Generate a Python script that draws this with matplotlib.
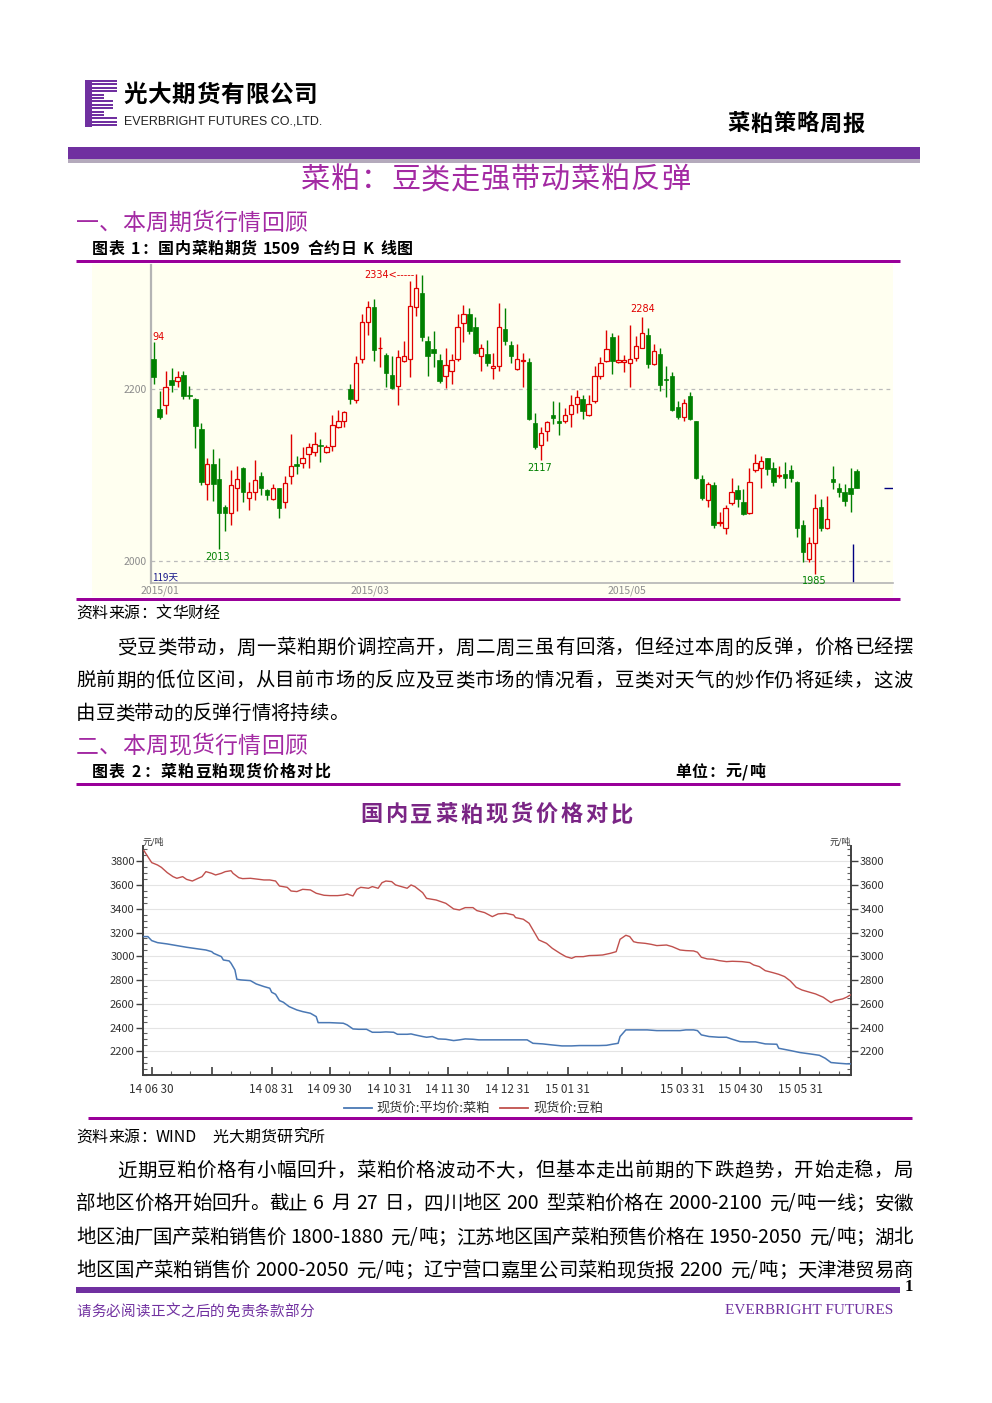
import re
import matplotlib
matplotlib.use('Agg')
import matplotlib.pyplot as plt
import matplotlib.dates as mdates
from matplotlib.patches import Rectangle
from matplotlib.ticker import FixedLocator, FixedFormatter, MultipleLocator, NullFormatter
import numpy as np
import pandas as pd

CJK = ['Noto Sans CJK SC', 'DejaVu Sans']
plt.rcParams['font.family'] = CJK

# ---------------- data: RM1509 daily K line (119 days) ----------------
k_open = [2235, 2177, 2181, 2210, 2209, 2216, 2193, 2188, 2153, 2089,
          2112, 2095, 2063, 2056, 2085, 2108, 2073, 2080, 2098, 2082,
          2072, 2084, 2068, 2098, 2113, 2114, 2124, 2127, 2134, 2127,
          2133, 2155, 2162, 2200, 2187, 2235, 2278, 2295, 2247, 2239,
          2216, 2203, 2232, 2235, 2295, 2311, 2255, 2246, 2233, 2215,
          2221, 2235, 2276, 2287, 2272, 2238, 2241, 2224, 2226, 2269,
          2251, 2223, 2232, 2231, 2160, 2135, 2151, 2169, 2163, 2162,
          2171, 2182, 2188, 2170, 2186, 2215, 2232, 2260, 2231, 2231,
          2230, 2236, 2248, 2262, 2229, 2240, 2211, 2215, 2179, 2167,
          2191, 2162, 2095, 2071, 2088, 2044, 2038, 2067, 2082, 2068,
          2055, 2105, 2108, 2119, 2108, 2098, 2101, 2106, 2092, 2042,
          2002, 2021, 2062, 2038, 2095, 2085, 2080, 2084, 2104]
k_high = [2254, 2197, 2221, 2224, 2221, 2221, 2203, 2189, 2160, 2120,
          2130, 2120, 2065, 2106, 2110, 2109, 2092, 2117, 2103, 2083,
          2089, 2085, 2098, 2147, 2122, 2132, 2137, 2150, 2142, 2135,
          2169, 2175, 2174, 2206, 2238, 2287, 2302, 2305, 2260, 2242,
          2238, 2245, 2255, 2325, 2334, 2332, 2261, 2267, 2241, 2248,
          2240, 2287, 2298, 2294, 2283, 2252, 2257, 2242, 2300, 2294,
          2256, 2252, 2242, 2236, 2172, 2155, 2162, 2186, 2185, 2178,
          2193, 2198, 2193, 2193, 2226, 2237, 2268, 2265, 2263, 2239,
          2274, 2261, 2284, 2271, 2252, 2248, 2226, 2219, 2186, 2188,
          2196, 2163, 2100, 2092, 2092, 2057, 2065, 2096, 2088, 2083,
          2108, 2124, 2122, 2120, 2115, 2110, 2115, 2111, 2093, 2047,
          2028, 2077, 2072, 2075, 2110, 2090, 2089, 2108, 2107]
k_low = [2206, 2165, 2171, 2196, 2202, 2188, 2188, 2131, 2088, 2071,
         2069, 2013, 2034, 2042, 2058, 2068, 2059, 2071, 2076, 2071,
         2071, 2050, 2061, 2089, 2101, 2108, 2108, 2122, 2115, 2125,
         2128, 2154, 2155, 2182, 2183, 2230, 2263, 2232, 2225, 2202,
         2200, 2181, 2231, 2214, 2285, 2256, 2215, 2225, 2207, 2201,
         2206, 2232, 2254, 2264, 2240, 2221, 2226, 2211, 2221, 2251,
         2230, 2222, 2202, 2164, 2130, 2117, 2139, 2159, 2146, 2160,
         2155, 2172, 2165, 2168, 2183, 2211, 2231, 2217, 2230, 2219,
         2202, 2232, 2247, 2224, 2228, 2197, 2190, 2174, 2165, 2162,
         2164, 2095, 2071, 2062, 2038, 2040, 2031, 2065, 2062, 2053,
         2054, 2103, 2084, 2100, 2087, 2096, 2085, 2092, 2027, 1999,
         1998, 1985, 2034, 2037, 2083, 2074, 2064, 2057, 2085]
k_close = [2214, 2167, 2202, 2204, 2214, 2191, 2192, 2157, 2092, 2112,
           2089, 2056, 2056, 2088, 2095, 2080, 2080, 2094, 2085, 2076,
           2085, 2061, 2090, 2110, 2110, 2119, 2132, 2136, 2133, 2132,
           2158, 2162, 2173, 2188, 2230, 2278, 2295, 2245, 2248, 2218,
           2201, 2237, 2238, 2296, 2317, 2260, 2238, 2242, 2209, 2228,
           2233, 2272, 2287, 2267, 2242, 2248, 2230, 2227, 2272, 2256,
           2238, 2235, 2233, 2165, 2132, 2149, 2161, 2166, 2160, 2170,
           2181, 2190, 2174, 2182, 2215, 2230, 2246, 2232, 2233, 2233,
           2235, 2250, 2265, 2229, 2244, 2204, 2210, 2175, 2167, 2183,
           2165, 2096, 2073, 2089, 2042, 2045, 2061, 2080, 2072, 2054,
           2092, 2114, 2116, 2107, 2092, 2100, 2096, 2096, 2038, 2010,
           2021, 2061, 2038, 2048, 2091, 2080, 2069, 2078, 2085]
k_yticks = [2000, 2200]
k_date_labels = ['2015/01', '2015/03', '2015/05']
k_date_pos = [1.06, 36.3, 79.4]

# ---------------- data: spot prices (yuan/ton) ----------------
sm_dates = ['2014-06-26', '2014-06-28', '2014-06-30', '2014-07-03', '2014-07-05', '2014-07-08', '2014-07-11',
            '2014-07-13', '2014-07-16', '2014-07-18', '2014-07-21', '2014-07-24', '2014-07-26', '2014-07-28',
            '2014-07-31', '2014-08-02', '2014-08-05', '2014-08-07', '2014-08-10', '2014-08-11', '2014-08-14',
            '2014-08-16', '2014-08-20', '2014-08-23', '2014-08-27', '2014-08-30', '2014-09-02', '2014-09-04',
            '2014-09-08', '2014-09-10', '2014-09-13', '2014-09-16', '2014-09-20', '2014-09-23', '2014-09-27',
            '2014-09-30', '2014-10-04', '2014-10-07', '2014-10-09', '2014-10-12', '2014-10-14', '2014-10-16',
            '2014-10-20', '2014-10-22', '2014-10-25', '2014-10-27', '2014-10-29', '2014-11-01', '2014-11-03',
            '2014-11-06', '2014-11-09', '2014-11-11', '2014-11-13', '2014-11-17', '2014-11-19', '2014-11-24',
            '2014-11-29', '2014-12-03', '2014-12-06', '2014-12-09', '2014-12-13', '2014-12-15', '2014-12-19',
            '2014-12-23', '2014-12-26', '2014-12-30', '2015-01-03', '2015-01-04', '2015-01-08', '2015-01-11',
            '2015-01-14', '2015-01-16', '2015-01-20', '2015-01-23', '2015-01-27', '2015-01-30', '2015-02-02',
            '2015-02-04', '2015-02-08', '2015-02-11', '2015-02-15', '2015-02-18', '2015-02-22', '2015-02-25',
            '2015-02-27', '2015-03-02', '2015-03-04', '2015-03-06', '2015-03-08', '2015-03-12', '2015-03-15',
            '2015-03-18', '2015-03-23', '2015-03-26', '2015-03-30', '2015-04-02', '2015-04-06', '2015-04-08',
            '2015-04-10', '2015-04-13', '2015-04-16', '2015-04-19', '2015-04-23', '2015-04-26', '2015-05-01',
            '2015-05-05', '2015-05-07', '2015-05-10', '2015-05-13', '2015-05-17', '2015-05-20', '2015-05-23',
            '2015-05-26', '2015-05-29', '2015-06-01', '2015-06-05', '2015-06-08', '2015-06-12', '2015-06-14',
            '2015-06-16', '2015-06-18', '2015-06-22', '2015-06-24', '2015-06-26']
sm_price = [3890, 3839, 3789, 3769, 3749, 3705, 3671, 3657, 3671, 3648, 3634, 3657, 3671, 3713,
            3699, 3685, 3699, 3713, 3721, 3699, 3662, 3654, 3657, 3651, 3643, 3643, 3634, 3592,
            3581, 3550, 3545, 3564, 3559, 3531, 3514, 3511, 3511, 3516, 3525, 3508, 3564, 3581,
            3573, 3587, 3573, 3620, 3634, 3629, 3601, 3587, 3573, 3601, 3587, 3536, 3488, 3474,
            3446, 3399, 3390, 3410, 3410, 3385, 3368, 3334, 3357, 3362, 3348, 3326, 3312, 3278,
            3194, 3138, 3109, 3067, 3025, 2997, 2983, 2997, 2997, 3006, 3008, 3011, 3025, 3039,
            3143, 3177, 3166, 3123, 3115, 3109, 3101, 3090, 3095, 3081, 3053, 3048, 3045, 3034,
            2992, 2978, 2975, 2964, 2955, 2958, 2955, 2947, 2927, 2913, 2879, 2862, 2848, 2829,
            2792, 2739, 2716, 2697, 2683, 2655, 2632, 2610, 2627, 2641, 2655, 2674]
rm_dates = ['2014-06-26', '2014-06-28', '2014-06-30', '2014-07-03', '2014-07-08', '2014-07-13', '2014-07-18',
            '2014-07-24', '2014-07-28', '2014-07-31', '2014-08-01', '2014-08-05', '2014-08-06', '2014-08-09',
            '2014-08-10', '2014-08-12', '2014-08-13', '2014-08-15', '2014-08-20', '2014-08-23', '2014-08-27',
            '2014-08-30', '2014-08-31', '2014-09-02', '2014-09-04', '2014-09-06', '2014-09-09', '2014-09-13',
            '2014-09-16', '2014-09-20', '2014-09-23', '2014-09-24', '2014-09-27', '2014-09-30', '2014-10-07',
            '2014-10-09', '2014-10-12', '2014-10-15', '2014-10-19', '2014-10-22', '2014-10-26', '2014-10-29',
            '2014-11-02', '2014-11-04', '2014-11-09', '2014-11-11', '2014-11-13', '2014-11-17', '2014-11-19',
            '2014-11-22', '2014-11-25', '2014-11-29', '2014-12-03', '2014-12-06', '2014-12-09', '2014-12-13',
            '2014-12-16', '2014-12-26', '2015-01-03', '2015-01-10', '2015-01-13', '2015-01-18', '2015-01-23',
            '2015-01-28', '2015-02-02', '2015-02-06', '2015-02-11', '2015-02-16', '2015-02-20', '2015-02-23',
            '2015-02-26', '2015-02-27', '2015-03-02', '2015-03-06', '2015-03-13', '2015-03-18', '2015-03-23',
            '2015-03-30', '2015-04-02', '2015-04-06', '2015-04-08', '2015-04-10', '2015-04-14', '2015-04-19',
            '2015-04-23', '2015-04-26', '2015-04-30', '2015-05-03', '2015-05-08', '2015-05-13', '2015-05-19',
            '2015-05-20', '2015-05-26', '2015-05-31', '2015-06-05', '2015-06-10', '2015-06-13', '2015-06-16',
            '2015-06-20', '2015-06-24', '2015-06-26']
rm_price = [3166, 3166, 3132, 3115, 3104, 3090, 3076, 3062, 3053, 3039, 3025, 2997, 2969, 2961,
            2941, 2885, 2806, 2801, 2795, 2767, 2745, 2731, 2697, 2680, 2627, 2613, 2576, 2548,
            2534, 2520, 2492, 2441, 2441, 2441, 2436, 2422, 2388, 2385, 2385, 2360, 2360, 2363,
            2360, 2343, 2343, 2346, 2338, 2324, 2318, 2324, 2304, 2301, 2290, 2296, 2304, 2301,
            2296, 2296, 2296, 2296, 2267, 2262, 2253, 2245, 2245, 2248, 2248, 2248, 2250, 2259,
            2267, 2324, 2380, 2380, 2380, 2374, 2374, 2374, 2380, 2380, 2374, 2338, 2324, 2318,
            2318, 2301, 2281, 2279, 2279, 2262, 2259, 2225, 2206, 2189, 2178, 2166, 2141, 2105,
            2099, 2094, 2094]
spot_yticks = [2200, 2400, 2600, 2800, 3000, 3200, 3400, 3600, 3800]
spot_tick_dates = ['2014-06-30', '2014-07-31', '2014-08-31', '2014-09-30', '2014-10-31', '2014-11-30',
                   '2014-12-31', '2015-01-31', '2015-02-28', '2015-03-31', '2015-04-30', '2015-05-31']
spot_tick_labels = ['14 06 30', '', '14 08 31', '14 09 30', '14 10 31', '14 11 30',
                    '14 12 31', '15 01 31', '', '15 03 31', '15 04 30', '15 05 31']
legend_names = ['现货价:平均价:菜粕', '现货价:豆粕']

para1 = ['受豆类带动，周一菜粕期价调控高开，周二周三虽有回落，但经过本周的反弹，价格已经摆',
         '脱前期的低位区间，从目前市场的反应及豆类市场的情况看，豆类对天气的炒作仍将延续，这波',
         '由豆类带动的反弹行情将持续。']
para2 = ['近期豆粕价格有小幅回升，菜粕价格波动不大，但基本走出前期的下跌趋势，开始走稳，局',
         '部地区价格开始回升。截止 6 月 27 日，四川地区 200 型菜粕价格在 2000-2100 元/吨一线；安徽',
         '地区油厂国产菜粕销售价 1800-1880 元/吨；江苏地区国产菜粕预售价格在 1950-2050 元/吨；湖北',
         '地区国产菜粕销售价 2000-2050 元/吨；辽宁营口嘉里公司菜粕现货报 2200 元/吨；天津港贸易商']

# ---------------- styles ----------------
PURPLE = '#7030A0'
MAGENTA = '#A32AA3'
RULE = '#990099'
CREAM = '#FFFFF0'
KRED = '#E00000'
KGREEN = '#008000'
BLUE = '#4A78B4'
RED = '#C0504D'

W, H = 992, 1403
fig = plt.figure(figsize=(W / 100, H / 100), dpi=100)
page = fig.add_axes([0, 0, 1, 1])
page.set_xlim(0, W)
page.set_ylim(H, 0)
page.axis('off')
renderer = fig.canvas.get_renderer()

TOK = re.compile(r'[0-9A-Za-z\.\-,]+|\s|.')


def put_line(s, x0, yc, size, x1=None, color='black', weight='normal', family=CJK):
    em = size * 100 / 72
    yb = yc + 0.38 * em
    items = []
    for t in TOK.findall(s):
        if t.isspace():
            items.append((None, 0.3 * em))
            continue
        o = page.text(0, yb, t, fontsize=size, color=color, fontweight=weight,
                      family=family, ha='left', va='baseline')
        if ord(t[0]) > 0x2E7F:
            w = em
        else:
            w = o.get_window_extent(renderer).width + 0.08 * em
        items.append((o, w))
    total = sum(w for _, w in items)
    gap = 0
    if x1 is not None and len(items) > 1:
        gap = (x1 - x0 - total) / (len(items) - 1)
    x = x0
    for o, w in items:
        if o is not None:
            o.set_x(x)
        x += w + gap


def px(v):
    return v * 72 / 100


# ---------------- header ----------------
page.add_patch(Rectangle((85, 80), 7, 47, color=PURPLE, lw=0))
stripe_len = [117, 117, 117, 117, 104, 104, 113, 113, 113, 104, 104, 117, 117, 117]
for k, xe in enumerate(stripe_len):
    page.add_patch(Rectangle((92, 80 + k * 3.4), xe - 92, 2.0, color=PURPLE, lw=0))
put_line('光大期货有限公司', 123, 93, 17, x1=317, weight='bold')
page.text(124, 121, 'EVERBRIGHT FUTURES CO.,LTD.', fontsize=9, fontstretch='condensed',
          family=['Liberation Sans Narrow', 'Liberation Sans', 'DejaVu Sans'],
          ha='left', va='center', color='#222222')
put_line('菜粕策略周报', 727, 122, 16, x1=865, weight='bold')
page.add_patch(Rectangle((68, 147), 852, 12, color=PURPLE, lw=0))
page.add_patch(Rectangle((68, 159), 852, 4, facecolor='#B4AABC', edgecolor='none', hatch='....'))
put_line('菜粕：豆类走强带动菜粕反弹', 301, 177, 21, x1=690, color=MAGENTA)

# ---------------- section 1 ----------------
put_line('一、本周期货行情回顾', 76, 221, 16.5, x1=307, color=MAGENTA)
put_line('图表 1：国内菜粕期货 1509 合约日 K 线图', 92, 248, 11.5, x1=413, weight='bold')
page.plot([76, 900], [261, 261], color=RULE, lw=px(3), solid_capstyle='butt')
page.add_patch(Rectangle((92, 264), 801, 333, color=CREAM, lw=0))
page.plot([76, 900], [599, 599], color=RULE, lw=px(3), solid_capstyle='butt')
put_line('资料来源：文华财经', 76, 612, 11.5, weight='light')

# candlestick chart
ax1 = fig.add_axes([151 / W, 1 - 583 / H, 742 / W, 318 / H])
ax1.set_facecolor('none')
n = len(k_open)
for i in range(n):
    o, hi, lo, c = k_open[i], k_high[i], k_low[i], k_close[i]
    up = c >= o
    col = KRED if up else KGREEN
    ax1.vlines(i, lo, hi, color=col, lw=1.0, zorder=2)
    b0, b1 = min(o, c), max(o, c)
    hgt = max(b1 - b0, 0.8)
    if up:
        ax1.add_patch(Rectangle((i - 0.36, b0), 0.72, hgt, facecolor=CREAM,
                                edgecolor=col, lw=0.9, zorder=3))
    else:
        ax1.add_patch(Rectangle((i - 0.38, b0), 0.76, hgt, facecolor=col,
                                edgecolor=col, lw=0.5, zorder=3))
for yv in k_yticks:
    ax1.axhline(yv, color='#BBBBBB', lw=0.9, ls=(0, (3, 3)), zorder=1)
ax1.set_xlim(-0.45, 124.1)
ax1.set_ylim(1974, 2344)
ax1.set_yticks(k_yticks)
ax1.set_yticklabels([str(v) for v in k_yticks])
ax1.set_xticks(k_date_pos)
ax1.set_xticklabels(k_date_labels)
ax1.tick_params(axis='both', length=0, colors='#8C8C8C', labelsize=7.5)
ax1.tick_params(axis='y', pad=3)
ax1.tick_params(axis='x', pad=2)
for sp in ['top', 'right']:
    ax1.spines[sp].set_visible(False)
ax1.spines['left'].set_color('#B4B4B4')
ax1.spines['left'].set_linewidth(1.6)
ax1.spines['bottom'].set_color('#B4B4B4')
ax1.spines['bottom'].set_linewidth(1.2)

imax = int(np.argmax(k_high))
ax1.text(imax - 0.2, k_high[imax] - 2, '%d<-----' % k_high[imax], color=KRED,
         fontsize=7, ha='right', va='center', family='DejaVu Sans')
lows = [int(np.argmin(k_low[:30])), int(np.argmin(k_low[60:70])) + 60,
        int(np.argmin(k_low[100:])) + 100]
for li in lows:
    ax1.text(li - 0.2, k_low[li] - 3, '%d' % k_low[li], color=KGREEN, fontsize=7,
             ha='center', va='top', family='DejaVu Sans')
ihi2 = int(np.argmax(k_high[70:90])) + 70
ax1.text(ihi2, k_high[ihi2] + 3, '%d' % k_high[ihi2], color=KRED, fontsize=7,
         ha='center', va='bottom', family='DejaVu Sans')
ax1.text(-0.2, 2260, '94', color=KRED, fontsize=7, ha='left', va='center', family='DejaVu Sans')
ax1.text(-0.2, 1980, '%d天' % n, color='#1A1A8C', fontsize=7, ha='left', va='center')
ax1.hlines(k_close[-1], 122.6, 124.1, color='#000080', lw=1.0)
ax1.vlines(117.45, 1974, 2019, color='#000080', lw=1.0)

# paragraph 1
put_line(para1[0], 117, 646, 14, x1=913, weight='light')
put_line(para1[1], 76, 679, 14, x1=913, weight='light')
put_line(para1[2], 76, 712, 14, weight='light')

# ---------------- section 2 ----------------
put_line('二、本周现货行情回顾', 76, 744, 16.5, x1=307, color=MAGENTA)
put_line('图表 2：菜粕豆粕现货价格对比', 92, 771, 11.5, x1=330, weight='bold')
put_line('单位：元/吨', 675, 771, 11.5, x1=766, weight='bold')
page.plot([76, 900], [784, 784], color=RULE, lw=px(3), solid_capstyle='butt')
put_line('国内豆菜粕现货价格对比', 360, 813, 16, x1=633, weight='bold', color='#7A2585')

ax2 = fig.add_axes([143 / W, 1 - 1075 / H, 708 / W, 229 / H])
sm_t = pd.to_datetime(sm_dates)
rm_t = pd.to_datetime(rm_dates)
ax2.plot(rm_t, rm_price, color=BLUE, lw=1.1, zorder=3)
ax2.plot(sm_t, sm_price, color=RED, lw=1.0, zorder=3)
ax2.set_xlim(pd.Timestamp('2014-06-25 12:00'), pd.Timestamp('2015-06-26 08:00'))
ax2.set_ylim(2000, 3929)
ax2.yaxis.set_major_locator(FixedLocator(spot_yticks))
ax2.yaxis.set_minor_locator(MultipleLocator(50))
ax2.yaxis.set_ticks_position('both')
ax2.tick_params(axis='y', which='major', direction='out', length=5, width=1,
                labelsize=8, labelcolor='#333333', color='#404040', pad=1,
                left=True, right=True, labelleft=True, labelright=True)
ax2.tick_params(axis='y', which='minor', direction='in', length=3, width=0.8,
                color='#606060', left=True, right=True)
tick_nums = mdates.date2num(pd.to_datetime(spot_tick_dates))
ax2.xaxis.set_major_locator(FixedLocator(tick_nums))
ax2.xaxis.set_major_formatter(FixedFormatter(spot_tick_labels))
ax2.xaxis.set_minor_locator(mdates.DayLocator(bymonthday=[10, 20]))
ax2.xaxis.set_minor_formatter(NullFormatter())
ax2.tick_params(axis='x', which='major', direction='in', length=6, width=1.2,
                color='#404040', labelsize=8.5, labelcolor='#333333', pad=6)
ax2.tick_params(axis='x', which='minor', direction='in', length=3, width=0.8, color='#606060')
for yv in spot_yticks:
    ax2.axhline(yv, color='#E4E4E4', lw=0.8, zorder=1)
ax2.spines['top'].set_visible(False)
for sp in ['left', 'right', 'bottom']:
    ax2.spines[sp].set_color('#404040')
    ax2.spines[sp].set_linewidth(1.4)
page.text(143, 842, '元/吨', fontsize=6.5, ha='left', va='center', color='#333333')
page.text(851, 842, '元/吨', fontsize=6.5, ha='right', va='center', color='#333333')

# legend
page.plot([344, 372], [1108, 1108], color=BLUE, lw=1.3)
page.text(376, 1108, legend_names[0], fontsize=9.5, ha='left', va='center', color='#333333')
page.plot([500, 528], [1108, 1108], color=RED, lw=1.3)
page.text(533, 1108, legend_names[1], fontsize=9.5, ha='left', va='center', color='#333333')
page.plot([88, 912], [1118, 1118], color=RULE, lw=px(3), solid_capstyle='butt')

put_line('资料来源：WIND   光大期货研究所', 76, 1136, 11.5, weight='light')
put_line(para2[0], 117, 1169, 14, x1=913, weight='light')
put_line(para2[1], 76, 1202, 14, x1=913, weight='light')
put_line(para2[2], 76, 1236, 14, x1=913, weight='light')
put_line(para2[3], 76, 1269, 14, x1=913, weight='light')

# ---------------- footer ----------------
page.add_patch(Rectangle((76, 1287), 824, 6, color=PURPLE, lw=0))
page.text(905, 1287, '1', fontsize=12, fontweight='bold', ha='left', va='center',
          family=['Liberation Serif', 'DejaVu Serif'])
put_line('请务必阅读正文之后的免责条款部分', 76, 1310, 10.5, x1=314, color=PURPLE, weight='light')
page.text(893, 1310, 'EVERBRIGHT FUTURES', fontsize=11, ha='right', va='center', color=PURPLE,
          family=['Liberation Serif', 'DejaVu Serif'])

fig.savefig('out.png', dpi=100)
